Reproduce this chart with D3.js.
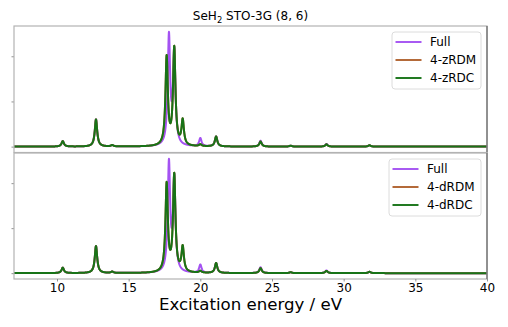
<!DOCTYPE html>
<html><head><meta charset="utf-8">
<script src="https://cdn.jsdelivr.net/npm/d3@7"></script>
<style>html,body{margin:0;padding:0;background:#fff;}svg{display:block;font-family:"DejaVu Sans",sans-serif;}</style>
</head><body>
<svg id="c" width="508" height="327"></svg>
<script>
// Stick spectra (excitation energy in eV, intensity in arbitrary units)
const energiesFull = [10.4, 12.72, 13.85, 17.81, 18.18, 20.0, 21.1, 24.2, 26.3, 28.8, 31.8];
const intensFull   = [0.12, 0.6, 0.03, 2.4, 2.05, 0.18, 0.22, 0.13, 0.02, 0.06, 0.03];
const energiesRDM  = [10.4, 12.72, 13.85, 17.65, 18.18, 18.77, 20.0, 21.1, 24.2, 26.3, 28.8, 31.8];
const intensZRDM   = [0.12, 0.6, 0.03, 1.95, 2.15, 0.55, 0.04, 0.22, 0.11, 0.02, 0.05, 0.03];
const intensZRDC   = [0.12, 0.6, 0.03, 1.95, 2.15, 0.55, 0.04, 0.22, 0.11, 0.02, 0.05, 0.03];
const intensDRDM   = [0.12, 0.6, 0.03, 1.95, 2.15, 0.55, 0.04, 0.22, 0.11, 0.02, 0.05, 0.03];
const intensDRDC   = [0.12, 0.6, 0.03, 1.95, 2.15, 0.55, 0.04, 0.22, 0.11, 0.02, 0.05, 0.03];
const xTicks = [10, 15, 20, 25, 30, 35, 40];
const yTicks = [0, 1, 2];
const panels = [
  {labels: ["Full", "4-zRDM", "4-zRDC"], series: [[energiesFull, intensFull], [energiesRDM, intensZRDM], [energiesRDM, intensZRDC]]},
  {labels: ["Full", "4-dRDM", "4-dRDC"], series: [[energiesFull, intensFull], [energiesRDM, intensDRDM], [energiesRDM, intensDRDC]]}
];
const colors = ["#a452f2", "#b0622f", "#177317"];
const gamma = 0.1; // Lorentzian half width (eV)

const svg = d3.select("#c");
const x = d3.scaleLinear().domain([7, 40]).range([14, 487]);
const grid = d3.range(7, 40.0001, 0.005);
function spectrum(E, I) {
  return grid.map(e => [e, d3.sum(E, (e0, i) => I[i] * gamma * gamma / ((e - e0) * (e - e0) + gamma * gamma))]);
}
const ranges = [[152.5, 26], [279, 153]];

panels.forEach((p, k) => {
  const y = d3.scaleLinear().domain([-0.13, 2.67]).range(ranges[k]);
  const g = svg.append("g");
  const line = d3.line().x(d => x(d[0])).y(d => y(d[1]));
  g.append("defs").append("clipPath").attr("id", "clip" + k).append("rect")
    .attr("x", 14).attr("y", ranges[k][1]).attr("width", 473).attr("height", ranges[k][0] - ranges[k][1]);
  p.series.forEach((s, i) => {
    g.append("path").attr("d", line(spectrum(s[0], s[1]))).attr("fill", "none")
      .attr("stroke", colors[i]).attr("stroke-width", 2).attr("stroke-linejoin", "round")
      .attr("clip-path", "url(#clip" + k + ")");
  });
  // y axis (ticks only)
  const ya = g.append("g").attr("transform", "translate(14,0)")
    .call(d3.axisLeft(y).tickValues(yTicks).tickSize(2.5).tickFormat(""));
  ya.select(".domain").remove();
  ya.selectAll("line").attr("stroke", "#777").attr("stroke-width", 0.8);
  // frame
  g.append("rect").attr("x", 14).attr("y", ranges[k][1]).attr("width", 473).attr("height", ranges[k][0] - ranges[k][1])
    .attr("fill", "none").attr("stroke", "#b3b3b3").attr("stroke-width", 1.2);
  g.append("line").attr("x1", 487).attr("x2", 487).attr("y1", ranges[k][1]).attr("y2", ranges[k][0])
    .attr("stroke", "#666").attr("stroke-width", 1.2);
  // legend
  const lx = k === 0 ? 392 : 389, ly = k === 0 ? 32 : 159, lw = k === 0 ? 89 : 92;
  const lg = g.append("g");
  lg.append("rect").attr("x", lx).attr("y", ly).attr("width", lw).attr("height", 57).attr("rx", 3)
    .attr("fill", "rgba(255,255,255,0.8)").attr("stroke", "#dcdcdc").attr("stroke-width", 1);
  p.labels.forEach((t, i) => {
    const yy = ly + 10 + i * 18;
    lg.append("line").attr("x1", lx + 3.5).attr("x2", lx + 29.5).attr("y1", yy).attr("y2", yy)
      .attr("stroke", colors[i]).attr("stroke-width", 1.9);
    lg.append("text").attr("x", lx + 38).attr("y", yy + 4.3).attr("font-size", 12).attr("fill", "#000").text(t);
  });
});

// x axis
const xa = svg.append("g").attr("transform", "translate(0,279)")
  .call(d3.axisBottom(x).tickValues(xTicks).tickSize(2.5).tickPadding(2));
xa.select(".domain").remove();
xa.selectAll("line").attr("stroke", "#777").attr("stroke-width", 0.8);
xa.selectAll("text").attr("font-size", 12).attr("fill", "#000").attr("font-family", "DejaVu Sans");

// title
const tt = svg.append("text").attr("x", 250.5).attr("y", 20).attr("text-anchor", "middle")
  .attr("font-size", 12).attr("fill", "#000");
tt.append("tspan").text("SeH");
tt.append("tspan").attr("font-size", 8.4).attr("dy", 2.7).text("2");
tt.append("tspan").attr("dy", -2.7).text(" STO-3G (8, 6)");

// x label
svg.append("text").attr("x", 250.5).attr("y", 310).attr("text-anchor", "middle")
  .attr("font-size", 16.6).attr("fill", "#000").text("Excitation energy / eV");
</script>
</body></html>
